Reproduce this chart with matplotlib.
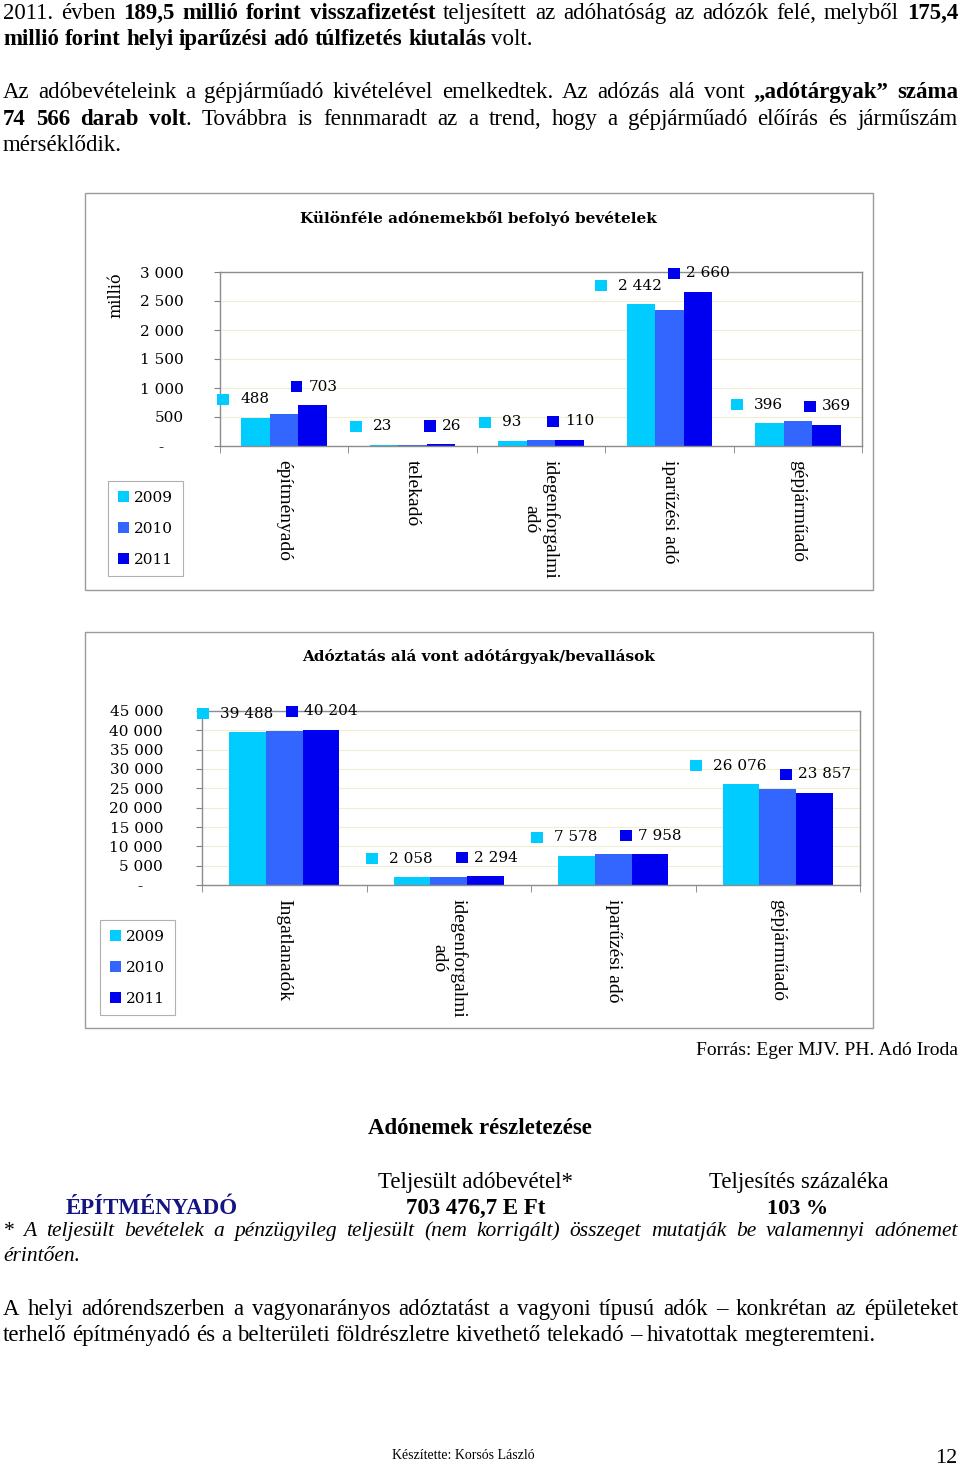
import matplotlib
matplotlib.use('Agg')
import matplotlib.pyplot as plt
from matplotlib.patches import Rectangle
from matplotlib.ticker import FuncFormatter, FixedLocator
from matplotlib.offsetbox import AnnotationBbox, HPacker, DrawingArea, TextArea

# ---- adatok ----
years = ['2009', '2010', '2011']
colors = ['#00CCFF', '#3366FF', '#0000F0']

cats1 = ['építményadó', 'telekadó', 'idegenforgalmi\nadó', 'iparűzési adó', 'gépjárműadó']
bev_2009 = [488, 23, 93, 2442, 396]
bev_2010 = [556, 24, 100, 2351, 431]
bev_2011 = [703, 26, 110, 2660, 369]

cats2 = ['Ingatlanadók', 'idegenforgalmi\nadó', 'iparűzési adó', 'gépjárműadó']
targy_2009 = [39488, 2058, 7578, 26076]
targy_2010 = [39900, 2060, 7950, 24900]
targy_2011 = [40204, 2294, 7958, 23857]

W, H = 960, 1468
SERIF = 'Liberation Serif'
CHART = 'DejaVu Serif'
BODY = 16.5

fig = plt.figure(figsize=(W / 100, H / 100), dpi=100)
fig.patch.set_facecolor('white')


def fx(x):
    return x / W


def fy(y):
    return 1 - y / H


def hu(v):
    return f"{int(v):,}".replace(',', ' ')


# ---- szoveg sorok (sorkizart) ----
def parse(line):
    words = [[]]
    for i, seg in enumerate(line.split('**')):
        bold = (i % 2 == 1)
        for j, p in enumerate(seg.split(' ')):
            if j > 0:
                words.append([])
            if p:
                words[-1].append((p, bold))
    return [w for w in words if w]


def put_line(y, line, size=BODY, x0=3, x1=958, justify=True, style='normal', color='black'):
    r = fig.canvas.get_renderer()
    items = []
    for w in parse(line):
        parts = []
        for txt, bold in w:
            t = fig.text(0, fy(y), txt, fontsize=size, family=SERIF, color=color,
                         fontweight='bold' if bold else 'normal', fontstyle=style,
                         ha='left', va='baseline')
            parts.append((t, t.get_window_extent(r).width))
        items.append(parts)
    widths = [sum(p[1] for p in parts) for parts in items]
    if justify and len(items) > 1:
        gap = (x1 - x0 - sum(widths)) / (len(items) - 1)
    else:
        gap = 0.25 * size * 100 / 72
    x = x0
    for parts in items:
        for t, wd in parts:
            t.set_x(fx(x))
            x += wd
        x += gap


put_line(19, '2011. évben **189,5 millió forint visszafizetést** teljesített az adóhatóság az adózók felé, melyből **175,4**')
put_line(45, '**millió forint helyi iparűzési adó túlfizetés kiutalás** volt.', justify=False)
put_line(98, 'Az adóbevételeink a gépjárműadó kivételével emelkedtek. Az adózás alá vont **„adótárgyak” száma**')
put_line(125, '**74 566 darab volt**. Továbbra is fennmaradt az a trend, hogy a gépjárműadó előírás és járműszám')
put_line(151, 'mérséklődik.', justify=False)


# ---- diagramok ----
def key_label(ax, x, y, val, color, dx, sep):
    da = DrawingArea(8.5, 8, 0, 0)
    da.add_artist(Rectangle((0, 0), 8.5, 8, fc=color, ec='none'))
    ta = TextArea(hu(val), textprops=dict(fontsize=11, family=CHART))
    box = HPacker(children=[da, ta], align='center', pad=0, sep=sep)
    ab = AnnotationBbox(box, (x, y), xycoords=ax.transData, xybox=(dx, 13.3),
                        boxcoords='offset points', frameon=False,
                        box_alignment=(0.5, 0.5), pad=0, annotation_clip=False)
    fig.add_artist(ab)


def chart(frame, box, title, cats, series, ymax, ystep, ypad, legend_xy, ylabel=None):
    fl, ft, fr, fb = frame
    fig.patches.append(Rectangle((fx(fl), fy(fb)), (fr - fl) / W, (fb - ft) / H,
                                 transform=fig.transFigure, fill=False,
                                 ec='#9a9a9a', lw=1))
    fig.text(fx((fl + fr) / 2 - 1), fy(ft + 25), title, fontsize=11, family=CHART,
             fontweight='bold', ha='center', va='center')
    l, t, r, b = box
    ax = fig.add_axes([fx(l), fy(b), (r - l) / W, (b - t) / H])
    n = len(cats)
    bw = 1 / 4.5
    xs = list(range(n))
    bars = []
    for k, vals in enumerate(series):
        pos = [x + (k - 1) * bw for x in xs]
        bars.append(ax.bar(pos, vals, width=bw, color=colors[k], label=years[k], zorder=2))
    for i in xs:
        key_label(ax, i - bw, series[0][i], series[0][i], colors[0], -9, 8)
        key_label(ax, i + bw, series[2][i], series[2][i], colors[2], 1, 4.5)
    ax.set_xlim(-0.5, n - 0.5)
    ax.set_ylim(0, ymax)
    ax.set_yticks(range(0, ymax + 1, ystep))
    ax.yaxis.set_major_formatter(FuncFormatter(lambda v, p: '-    ' if v == 0 else hu(v)))
    ax.tick_params(axis='y', length=4, color='#808080', pad=ypad, labelsize=11)
    for lab in ax.get_yticklabels():
        lab.set_family(CHART)
    ax.set_xticks(xs)
    ax.set_xticklabels(cats, rotation=270, family=SERIF, fontsize=14,
                       multialignment='center')
    ax.tick_params(axis='x', which='major', length=0, pad=10)
    ax.xaxis.set_minor_locator(FixedLocator([x - 0.5 for x in range(n + 1)]))
    ax.tick_params(axis='x', which='minor', length=5, color='#808080')
    ax.yaxis.grid(True, color='#efedd2', lw=0.8, zorder=0)
    ax.set_axisbelow(True)
    for s in ax.spines.values():
        s.set_color('#8c8c8c')
        s.set_linewidth(1)
    if ylabel:
        fig.text(fx(116), fy(295), ylabel, rotation=90, fontsize=11.5, family=CHART,
                 ha='center', va='center')
    leg = fig.legend(handles=[bb for bb in bars], labels=years, loc='upper left',
                     bbox_to_anchor=(fx(legend_xy[0]), fy(legend_xy[1])),
                     borderaxespad=0, fancybox=False, framealpha=1,
                     handlelength=0.75, handleheight=0.75, handletextpad=0.3,
                     labelspacing=1.1, borderpad=0.65,
                     prop=dict(family=CHART, size=11))
    leg.get_frame().set_edgecolor('#b0b0b0')
    leg.get_frame().set_linewidth(0.8)
    return ax


chart((85, 193, 873, 590), (220, 272, 862, 446),
      'Különféle adónemekből befolyó bevételek', cats1,
      [bev_2009, bev_2010, bev_2011], 3000, 500, 22, (108, 481), ylabel='millió')

chart((85, 632, 873, 1028), (202, 711, 860, 885),
      'Adóztatás alá vont adótárgyak/bevallások', cats2,
      [targy_2009, targy_2010, targy_2011], 45000, 5000, 24, (100, 920))

# ---- also szovegek ----
fig.text(fx(958), fy(1055), 'Forrás: Eger MJV. PH. Adó Iroda', fontsize=14,
         family=SERIF, ha='right', va='baseline')
fig.text(fx(480), fy(1134), 'Adónemek részletezése', fontsize=16.5, family=SERIF,
         fontweight='bold', ha='center', va='baseline')
fig.text(fx(476), fy(1188), 'Teljesült adóbevétel*', fontsize=16.5, family=SERIF,
         ha='center', va='baseline')
fig.text(fx(799), fy(1188), 'Teljesítés százaléka', fontsize=16.5, family=SERIF,
         ha='center', va='baseline')
fig.text(fx(152), fy(1214), 'ÉPÍTMÉNYADÓ', fontsize=16.5, family=SERIF,
         fontweight='bold', color='#141482', ha='center', va='baseline')
fig.text(fx(476), fy(1214), '703 476,7 E Ft', fontsize=16.5, family=SERIF,
         fontweight='bold', ha='center', va='baseline')
fig.text(fx(798), fy(1214), '103 %', fontsize=16, family=SERIF,
         fontweight='bold', ha='center', va='baseline')

put_line(1236, '* A teljesült bevételek a pénzügyileg teljesült (nem korrigált) összeget mutatják be valamennyi adónemet', size=15.5, style='italic')
put_line(1261, 'érintően.', size=15.5, style='italic', justify=False)
put_line(1315, 'A helyi adórendszerben a vagyonarányos adóztatást a vagyoni típusú adók – konkrétan az épületeket')
put_line(1341, 'terhelő építményadó és a belterületi földrészletre kivethető telekadó – hivatottak megteremteni.', justify=False)

fig.text(fx(463), fy(1459), 'Készítette: Korsós László', fontsize=10, family=SERIF,
         ha='center', va='baseline')
fig.text(fx(957), fy(1463), '12', fontsize=16, family=SERIF, ha='right', va='baseline')

fig.savefig('out.png', dpi=100)
